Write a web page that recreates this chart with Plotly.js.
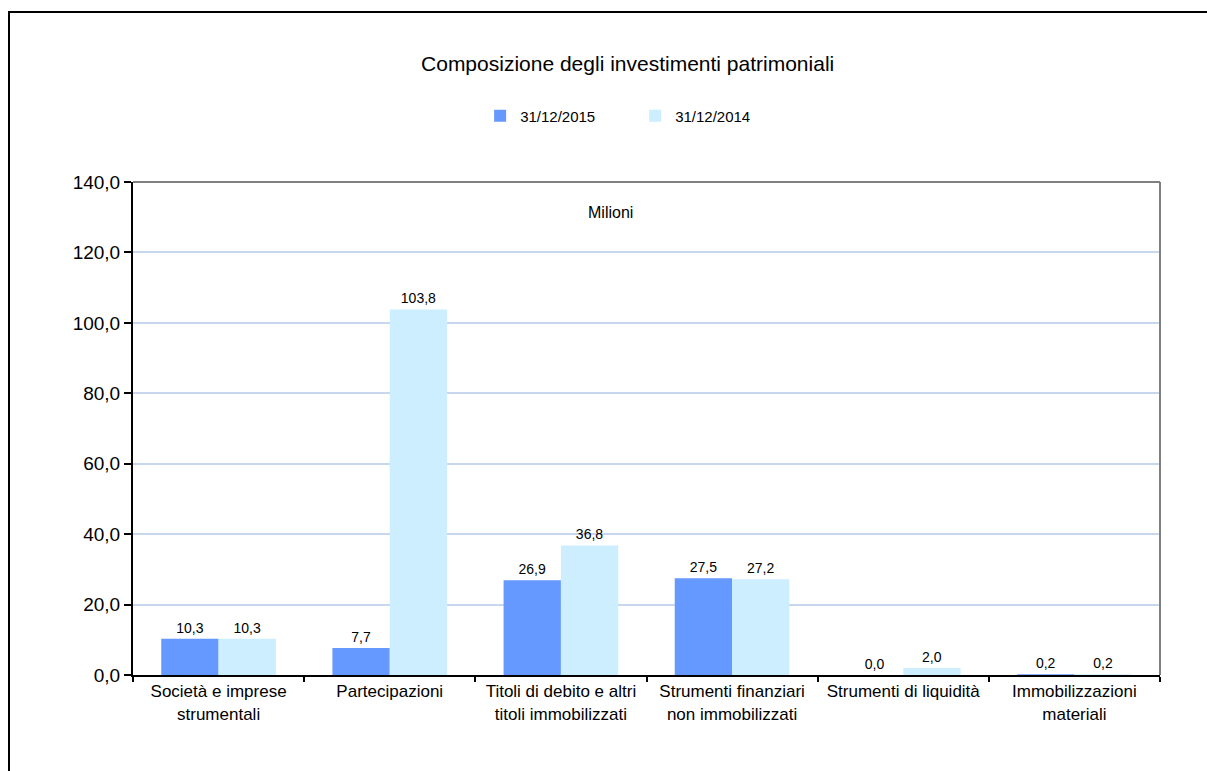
<!DOCTYPE html>
<html>
<head>
<meta charset="utf-8">
<script src="https://cdn.plot.ly/plotly-3.0.1.min.js"></script>
<style>
html,body{margin:0;padding:0;overflow:hidden;background:#fff;width:1207px;height:771px;}
#frame{position:absolute;left:8px;top:11px;width:1300px;height:900px;border:2px solid #000;box-sizing:border-box;}
#chart{position:absolute;left:0;top:0;width:1207px;height:771px;}
</style>
</head>
<body>
<div id="frame"></div>
<div id="chart"></div>
<script>
const categories = [
  "Società e imprese<br>strumentali",
  "Partecipazioni",
  "Titoli di debito e altri<br>titoli immobilizzati",
  "Strumenti finanziari<br>non immobilizzati",
  "Strumenti di liquidità",
  "Immobilizzazioni<br>materiali"
];
const values2015 = [10.3, 7.7, 26.9, 27.5, 0.0, 0.2];
const values2014 = [10.3, 103.8, 36.8, 27.2, 2.0, 0.2];
const seriesNames = ["31/12/2015", "31/12/2014"];

const font = "Liberation Sans, Arial, sans-serif";

const traces = [
  {type:"bar", name:seriesNames[0], x:categories, y:values2015,
   marker:{color:"#6699ff"}, texttemplate:"%{y:.1f}", textposition:"outside",
   textfont:{size:14, color:"#000"}, cliponaxis:false},
  {type:"bar", name:seriesNames[1], x:categories, y:values2014,
   marker:{color:"#cceeff"}, texttemplate:"%{y:.1f}", textposition:"outside",
   textfont:{size:14, color:"#000"}, cliponaxis:false}
];

const layout = {
  width:1207, height:771,
  margin:{l:133, r:47, t:182, b:96},
  paper_bgcolor:"rgba(0,0,0,0)", plot_bgcolor:"#fff",
  separators:",.",
  font:{family:font, color:"#000"},
  title:{text:"Composizione degli investimenti patrimoniali", x:0.52, xanchor:"center", y:0.918, yanchor:"middle", font:{size:21, color:"#000"}},
  showlegend:true,
  legend:{orientation:"h", x:0.338, xanchor:"left", y:1.134, yanchor:"middle", font:{size:15},
          entrywidth:110, entrywidthmode:"pixels", itemwidth:30, traceorder:"normal"},
  barmode:"group", bargap:0.33, bargroupgap:0,
  xaxis:{type:"category", showline:true, linecolor:"#000", linewidth:2, ticks:"outside", tickson:"boundaries",
         ticklen:5, tickcolor:"#000", tickwidth:2, tickfont:{size:17}, tickangle:0, showgrid:false},
  yaxis:{range:[0,140], dtick:20, tickformat:".1f", showline:true, linecolor:"#000", linewidth:2,
         ticks:"outside", ticklen:7, tickcolor:"#000", tickwidth:2, tickfont:{size:19},
         gridcolor:"#c8d6ee", gridwidth:2, zeroline:false},
  shapes:[
    {type:"line", xref:"paper", yref:"paper", x0:0, x1:1, y0:1, y1:1, line:{color:"#808080", width:2}},
    {type:"line", xref:"paper", yref:"paper", x0:1, x1:1, y0:0, y1:1, line:{color:"#808080", width:2}}
  ],
  annotations:[
    {text:"Milioni", xref:"paper", yref:"paper", x:0.465, y:0.96, showarrow:false, font:{size:16}}
  ]
};

Plotly.newPlot("chart", traces, layout, {displayModeBar:false, staticPlot:true});
</script>
</body>
</html>
